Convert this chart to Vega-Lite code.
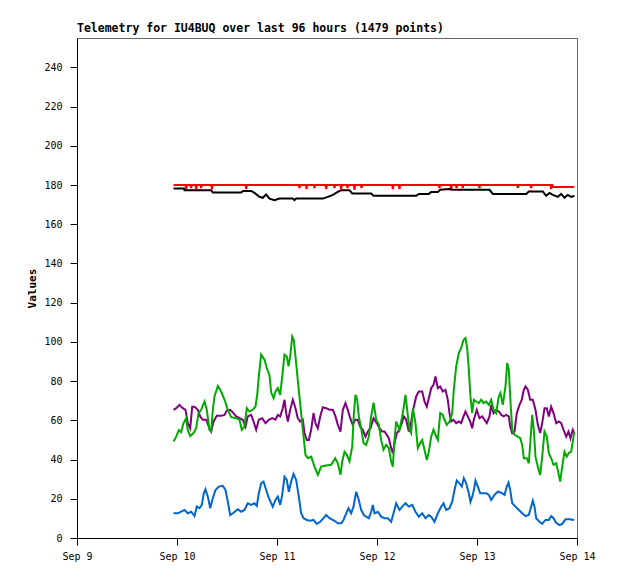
{
  "$schema": "https://vega.github.io/schema/vega-lite/v6.json",
  "description": "Telemetry line chart for IU4BUQ, five channels over 96 hours.",
  "width": 500,
  "height": 500,
  "autosize": {"type": "none"},
  "padding": {"left": 77, "top": 38, "right": 41, "bottom": 41},
  "background": "white",
  "config": {
    "view": {"stroke": "#666666", "strokeWidth": 1},
    "axis": {
      "grid": false,
      "domainColor": "black",
      "domainWidth": 1,
      "tickColor": "black",
      "tickSize": 7,
      "labelFont": "DejaVu Sans Mono",
      "labelFontSize": 10,
      "labelColor": "black",
      "titleFont": "DejaVu Sans Mono",
      "titleFontSize": 11,
      "titleFontWeight": "bold",
      "titleColor": "black"
    }
  },
  "title": {
    "text": "Telemetry for IU4BUQ over last 96 hours (1479 points)",
    "anchor": "start",
    "frame": "group",
    "font": "DejaVu Sans Mono",
    "fontSize": 11.5,
    "fontWeight": "bold",
    "color": "black",
    "offset": 4
  },
  "data": {
    "values": [
      {"time": "2024-09-09T23:10Z", "channel": "Ch1", "value": 180},
      {"time": "2024-09-10T02:02Z", "channel": "Ch1", "value": 180},
      {"time": "2024-09-10T02:12Z", "channel": "Ch1", "value": 178},
      {"time": "2024-09-10T02:22Z", "channel": "Ch1", "value": 180},
      {"time": "2024-09-10T03:14Z", "channel": "Ch1", "value": 180},
      {"time": "2024-09-10T03:24Z", "channel": "Ch1", "value": 178.5},
      {"time": "2024-09-10T03:34Z", "channel": "Ch1", "value": 180},
      {"time": "2024-09-10T04:26Z", "channel": "Ch1", "value": 180},
      {"time": "2024-09-10T04:36Z", "channel": "Ch1", "value": 178},
      {"time": "2024-09-10T04:46Z", "channel": "Ch1", "value": 180},
      {"time": "2024-09-10T05:38Z", "channel": "Ch1", "value": 180},
      {"time": "2024-09-10T05:48Z", "channel": "Ch1", "value": 178.5},
      {"time": "2024-09-10T05:58Z", "channel": "Ch1", "value": 180},
      {"time": "2024-09-10T08:14Z", "channel": "Ch1", "value": 180},
      {"time": "2024-09-10T08:24Z", "channel": "Ch1", "value": 178},
      {"time": "2024-09-10T08:34Z", "channel": "Ch1", "value": 180},
      {"time": "2024-09-10T16:26Z", "channel": "Ch1", "value": 180},
      {"time": "2024-09-10T16:36Z", "channel": "Ch1", "value": 178},
      {"time": "2024-09-10T16:46Z", "channel": "Ch1", "value": 180},
      {"time": "2024-09-11T05:14Z", "channel": "Ch1", "value": 180},
      {"time": "2024-09-11T05:24Z", "channel": "Ch1", "value": 178.5},
      {"time": "2024-09-11T05:34Z", "channel": "Ch1", "value": 180},
      {"time": "2024-09-11T06:55Z", "channel": "Ch1", "value": 180},
      {"time": "2024-09-11T07:05Z", "channel": "Ch1", "value": 178},
      {"time": "2024-09-11T07:15Z", "channel": "Ch1", "value": 180},
      {"time": "2024-09-11T08:50Z", "channel": "Ch1", "value": 180},
      {"time": "2024-09-11T09:00Z", "channel": "Ch1", "value": 178.5},
      {"time": "2024-09-11T09:10Z", "channel": "Ch1", "value": 180},
      {"time": "2024-09-11T11:38Z", "channel": "Ch1", "value": 180},
      {"time": "2024-09-11T11:48Z", "channel": "Ch1", "value": 178},
      {"time": "2024-09-11T11:58Z", "channel": "Ch1", "value": 180},
      {"time": "2024-09-11T13:38Z", "channel": "Ch1", "value": 180},
      {"time": "2024-09-11T13:48Z", "channel": "Ch1", "value": 178.5},
      {"time": "2024-09-11T13:58Z", "channel": "Ch1", "value": 180},
      {"time": "2024-09-11T15:15Z", "channel": "Ch1", "value": 180},
      {"time": "2024-09-11T15:25Z", "channel": "Ch1", "value": 178},
      {"time": "2024-09-11T15:35Z", "channel": "Ch1", "value": 180},
      {"time": "2024-09-11T16:45Z", "channel": "Ch1", "value": 180},
      {"time": "2024-09-11T16:55Z", "channel": "Ch1", "value": 178.5},
      {"time": "2024-09-11T17:05Z", "channel": "Ch1", "value": 180},
      {"time": "2024-09-11T18:26Z", "channel": "Ch1", "value": 180},
      {"time": "2024-09-11T18:36Z", "channel": "Ch1", "value": 177.5},
      {"time": "2024-09-11T18:46Z", "channel": "Ch1", "value": 180},
      {"time": "2024-09-11T20:07Z", "channel": "Ch1", "value": 180},
      {"time": "2024-09-11T20:17Z", "channel": "Ch1", "value": 178.5},
      {"time": "2024-09-11T20:27Z", "channel": "Ch1", "value": 180},
      {"time": "2024-09-12T03:38Z", "channel": "Ch1", "value": 180},
      {"time": "2024-09-12T03:48Z", "channel": "Ch1", "value": 178},
      {"time": "2024-09-12T03:58Z", "channel": "Ch1", "value": 180},
      {"time": "2024-09-12T05:14Z", "channel": "Ch1", "value": 180},
      {"time": "2024-09-12T05:24Z", "channel": "Ch1", "value": 178},
      {"time": "2024-09-12T05:34Z", "channel": "Ch1", "value": 180},
      {"time": "2024-09-12T14:50Z", "channel": "Ch1", "value": 180},
      {"time": "2024-09-12T15:00Z", "channel": "Ch1", "value": 178.5},
      {"time": "2024-09-12T15:10Z", "channel": "Ch1", "value": 180},
      {"time": "2024-09-12T17:38Z", "channel": "Ch1", "value": 180},
      {"time": "2024-09-12T17:48Z", "channel": "Ch1", "value": 178},
      {"time": "2024-09-12T17:58Z", "channel": "Ch1", "value": 180},
      {"time": "2024-09-12T18:55Z", "channel": "Ch1", "value": 180},
      {"time": "2024-09-12T19:05Z", "channel": "Ch1", "value": 178.5},
      {"time": "2024-09-12T19:15Z", "channel": "Ch1", "value": 180},
      {"time": "2024-09-12T20:25Z", "channel": "Ch1", "value": 180},
      {"time": "2024-09-12T20:35Z", "channel": "Ch1", "value": 178.5},
      {"time": "2024-09-12T20:45Z", "channel": "Ch1", "value": 180},
      {"time": "2024-09-13T00:26Z", "channel": "Ch1", "value": 180},
      {"time": "2024-09-13T00:36Z", "channel": "Ch1", "value": 178.5},
      {"time": "2024-09-13T00:46Z", "channel": "Ch1", "value": 180},
      {"time": "2024-09-13T09:38Z", "channel": "Ch1", "value": 180},
      {"time": "2024-09-13T09:48Z", "channel": "Ch1", "value": 178.5},
      {"time": "2024-09-13T09:58Z", "channel": "Ch1", "value": 180},
      {"time": "2024-09-13T12:50Z", "channel": "Ch1", "value": 180},
      {"time": "2024-09-13T13:00Z", "channel": "Ch1", "value": 178.5},
      {"time": "2024-09-13T13:10Z", "channel": "Ch1", "value": 180},
      {"time": "2024-09-13T17:38Z", "channel": "Ch1", "value": 180},
      {"time": "2024-09-13T17:48Z", "channel": "Ch1", "value": 178},
      {"time": "2024-09-13T17:58Z", "channel": "Ch1", "value": 180},
      {"time": "2024-09-13T18:05Z", "channel": "Ch1", "value": 180},
      {"time": "2024-09-13T18:15Z", "channel": "Ch1", "value": 179},
      {"time": "2024-09-13T23:20Z", "channel": "Ch1", "value": 179},

      {"time": "2024-09-09T23:10Z", "channel": "Ch2", "value": 178.2},
      {"time": "2024-09-10T01:40Z", "channel": "Ch2", "value": 178.2},
      {"time": "2024-09-10T01:48Z", "channel": "Ch2", "value": 177.4},
      {"time": "2024-09-10T08:12Z", "channel": "Ch2", "value": 177.4},
      {"time": "2024-09-10T08:36Z", "channel": "Ch2", "value": 176.2},
      {"time": "2024-09-10T15:25Z", "channel": "Ch2", "value": 176.2},
      {"time": "2024-09-10T15:48Z", "channel": "Ch2", "value": 177},
      {"time": "2024-09-10T17:48Z", "channel": "Ch2", "value": 177},
      {"time": "2024-09-10T18:36Z", "channel": "Ch2", "value": 176},
      {"time": "2024-09-10T19:48Z", "channel": "Ch2", "value": 174},
      {"time": "2024-09-10T20:35Z", "channel": "Ch2", "value": 173.5},
      {"time": "2024-09-10T21:24Z", "channel": "Ch2", "value": 175.2},
      {"time": "2024-09-10T22:12Z", "channel": "Ch2", "value": 173.1},
      {"time": "2024-09-10T23:24Z", "channel": "Ch2", "value": 172.3},
      {"time": "2024-09-11T00:36Z", "channel": "Ch2", "value": 173.1},
      {"time": "2024-09-11T03:48Z", "channel": "Ch2", "value": 173.1},
      {"time": "2024-09-11T04:12Z", "channel": "Ch2", "value": 172.3},
      {"time": "2024-09-11T04:36Z", "channel": "Ch2", "value": 173.1},
      {"time": "2024-09-11T11:00Z", "channel": "Ch2", "value": 173.1},
      {"time": "2024-09-11T12:12Z", "channel": "Ch2", "value": 174},
      {"time": "2024-09-11T13:24Z", "channel": "Ch2", "value": 175},
      {"time": "2024-09-11T14:36Z", "channel": "Ch2", "value": 176.5},
      {"time": "2024-09-11T15:25Z", "channel": "Ch2", "value": 177.4},
      {"time": "2024-09-11T17:24Z", "channel": "Ch2", "value": 177.4},
      {"time": "2024-09-11T18:03Z", "channel": "Ch2", "value": 175.7},
      {"time": "2024-09-11T22:36Z", "channel": "Ch2", "value": 175.7},
      {"time": "2024-09-11T23:10Z", "channel": "Ch2", "value": 174.5},
      {"time": "2024-09-12T09:24Z", "channel": "Ch2", "value": 174.5},
      {"time": "2024-09-12T10:02Z", "channel": "Ch2", "value": 175.5},
      {"time": "2024-09-12T12:26Z", "channel": "Ch2", "value": 175.5},
      {"time": "2024-09-12T13:00Z", "channel": "Ch2", "value": 176.4},
      {"time": "2024-09-12T14:36Z", "channel": "Ch2", "value": 176.4},
      {"time": "2024-09-12T15:10Z", "channel": "Ch2", "value": 177.6},
      {"time": "2024-09-12T17:24Z", "channel": "Ch2", "value": 178},
      {"time": "2024-09-12T18:03Z", "channel": "Ch2", "value": 177.6},
      {"time": "2024-09-13T03:00Z", "channel": "Ch2", "value": 177.6},
      {"time": "2024-09-13T03:48Z", "channel": "Ch2", "value": 175.5},
      {"time": "2024-09-13T11:48Z", "channel": "Ch2", "value": 175.5},
      {"time": "2024-09-13T12:26Z", "channel": "Ch2", "value": 176.7},
      {"time": "2024-09-13T15:48Z", "channel": "Ch2", "value": 176.7},
      {"time": "2024-09-13T16:36Z", "channel": "Ch2", "value": 174.5},
      {"time": "2024-09-13T17:24Z", "channel": "Ch2", "value": 176},
      {"time": "2024-09-13T18:12Z", "channel": "Ch2", "value": 175},
      {"time": "2024-09-13T19:23Z", "channel": "Ch2", "value": 174},
      {"time": "2024-09-13T20:12Z", "channel": "Ch2", "value": 175.5},
      {"time": "2024-09-13T21:00Z", "channel": "Ch2", "value": 173.5},
      {"time": "2024-09-13T21:47Z", "channel": "Ch2", "value": 175},
      {"time": "2024-09-13T22:36Z", "channel": "Ch2", "value": 174},
      {"time": "2024-09-13T23:24Z", "channel": "Ch2", "value": 174.5},

      {"time": "2024-09-09T23:10Z", "channel": "Ch3", "value": 65.4},
      {"time": "2024-09-09T23:49Z", "channel": "Ch3", "value": 66.2},
      {"time": "2024-09-10T00:36Z", "channel": "Ch3", "value": 67.9},
      {"time": "2024-09-10T01:23Z", "channel": "Ch3", "value": 66.2},
      {"time": "2024-09-10T02:02Z", "channel": "Ch3", "value": 65.4},
      {"time": "2024-09-10T02:36Z", "channel": "Ch3", "value": 58.6},
      {"time": "2024-09-10T03:10Z", "channel": "Ch3", "value": 56},
      {"time": "2024-09-10T03:39Z", "channel": "Ch3", "value": 67},
      {"time": "2024-09-10T04:12Z", "channel": "Ch3", "value": 67},
      {"time": "2024-09-10T04:59Z", "channel": "Ch3", "value": 65.4},
      {"time": "2024-09-10T05:34Z", "channel": "Ch3", "value": 62},
      {"time": "2024-09-10T06:12Z", "channel": "Ch3", "value": 60.3},
      {"time": "2024-09-10T07:00Z", "channel": "Ch3", "value": 60.3},
      {"time": "2024-09-10T07:38Z", "channel": "Ch3", "value": 56.8},
      {"time": "2024-09-10T08:12Z", "channel": "Ch3", "value": 54.3},
      {"time": "2024-09-10T08:46Z", "channel": "Ch3", "value": 59.4},
      {"time": "2024-09-10T09:33Z", "channel": "Ch3", "value": 62.3},
      {"time": "2024-09-10T10:36Z", "channel": "Ch3", "value": 62.3},
      {"time": "2024-09-10T11:24Z", "channel": "Ch3", "value": 62.8},
      {"time": "2024-09-10T11:57Z", "channel": "Ch3", "value": 65},
      {"time": "2024-09-10T12:46Z", "channel": "Ch3", "value": 65.4},
      {"time": "2024-09-10T13:34Z", "channel": "Ch3", "value": 63.7},
      {"time": "2024-09-10T14:12Z", "channel": "Ch3", "value": 62},
      {"time": "2024-09-10T15:00Z", "channel": "Ch3", "value": 61.1},
      {"time": "2024-09-10T15:48Z", "channel": "Ch3", "value": 60.3},
      {"time": "2024-09-10T16:26Z", "channel": "Ch3", "value": 56.8},
      {"time": "2024-09-10T16:59Z", "channel": "Ch3", "value": 62},
      {"time": "2024-09-10T17:48Z", "channel": "Ch3", "value": 62.8},
      {"time": "2024-09-10T18:22Z", "channel": "Ch3", "value": 59.4},
      {"time": "2024-09-10T19:00Z", "channel": "Ch3", "value": 55.2},
      {"time": "2024-09-10T19:38Z", "channel": "Ch3", "value": 60.3},
      {"time": "2024-09-10T20:27Z", "channel": "Ch3", "value": 61.1},
      {"time": "2024-09-10T21:14Z", "channel": "Ch3", "value": 58.6},
      {"time": "2024-09-10T22:02Z", "channel": "Ch3", "value": 60.3},
      {"time": "2024-09-10T22:51Z", "channel": "Ch3", "value": 61.1},
      {"time": "2024-09-10T23:38Z", "channel": "Ch3", "value": 60.3},
      {"time": "2024-09-11T00:12Z", "channel": "Ch3", "value": 62.8},
      {"time": "2024-09-11T00:46Z", "channel": "Ch3", "value": 62},
      {"time": "2024-09-11T01:23Z", "channel": "Ch3", "value": 66.2},
      {"time": "2024-09-11T01:48Z", "channel": "Ch3", "value": 70.5},
      {"time": "2024-09-11T02:12Z", "channel": "Ch3", "value": 63.7},
      {"time": "2024-09-11T02:36Z", "channel": "Ch3", "value": 59.4},
      {"time": "2024-09-11T03:10Z", "channel": "Ch3", "value": 65.4},
      {"time": "2024-09-11T03:48Z", "channel": "Ch3", "value": 70.5},
      {"time": "2024-09-11T04:26Z", "channel": "Ch3", "value": 66.2},
      {"time": "2024-09-11T04:59Z", "channel": "Ch3", "value": 61.1},
      {"time": "2024-09-11T05:34Z", "channel": "Ch3", "value": 59.4},
      {"time": "2024-09-11T06:12Z", "channel": "Ch3", "value": 60.3},
      {"time": "2024-09-11T06:36Z", "channel": "Ch3", "value": 53.5},
      {"time": "2024-09-11T07:09Z", "channel": "Ch3", "value": 50},
      {"time": "2024-09-11T07:38Z", "channel": "Ch3", "value": 50},
      {"time": "2024-09-11T08:12Z", "channel": "Ch3", "value": 55.2},
      {"time": "2024-09-11T08:46Z", "channel": "Ch3", "value": 63.7},
      {"time": "2024-09-11T09:14Z", "channel": "Ch3", "value": 58.6},
      {"time": "2024-09-11T09:48Z", "channel": "Ch3", "value": 56},
      {"time": "2024-09-11T10:22Z", "channel": "Ch3", "value": 62},
      {"time": "2024-09-11T11:00Z", "channel": "Ch3", "value": 66.7},
      {"time": "2024-09-11T11:48Z", "channel": "Ch3", "value": 66.2},
      {"time": "2024-09-11T12:36Z", "channel": "Ch3", "value": 65.4},
      {"time": "2024-09-11T13:24Z", "channel": "Ch3", "value": 65.4},
      {"time": "2024-09-11T14:02Z", "channel": "Ch3", "value": 62},
      {"time": "2024-09-11T14:36Z", "channel": "Ch3", "value": 57.7},
      {"time": "2024-09-11T15:14Z", "channel": "Ch3", "value": 54.3},
      {"time": "2024-09-11T15:48Z", "channel": "Ch3", "value": 65.4},
      {"time": "2024-09-11T16:26Z", "channel": "Ch3", "value": 68.8},
      {"time": "2024-09-11T16:59Z", "channel": "Ch3", "value": 65.4},
      {"time": "2024-09-11T17:34Z", "channel": "Ch3", "value": 61.1},
      {"time": "2024-09-11T18:12Z", "channel": "Ch3", "value": 57.7},
      {"time": "2024-09-11T18:46Z", "channel": "Ch3", "value": 60.3},
      {"time": "2024-09-11T19:23Z", "channel": "Ch3", "value": 60.3},
      {"time": "2024-09-11T19:58Z", "channel": "Ch3", "value": 56.8},
      {"time": "2024-09-11T20:35Z", "channel": "Ch3", "value": 55.2},
      {"time": "2024-09-11T21:14Z", "channel": "Ch3", "value": 51.7},
      {"time": "2024-09-11T21:47Z", "channel": "Ch3", "value": 54.3},
      {"time": "2024-09-11T22:26Z", "channel": "Ch3", "value": 56},
      {"time": "2024-09-11T23:10Z", "channel": "Ch3", "value": 61.1},
      {"time": "2024-09-11T23:57Z", "channel": "Ch3", "value": 58.6},
      {"time": "2024-09-12T00:36Z", "channel": "Ch3", "value": 56},
      {"time": "2024-09-12T01:15Z", "channel": "Ch3", "value": 54.3},
      {"time": "2024-09-12T01:48Z", "channel": "Ch3", "value": 54.3},
      {"time": "2024-09-12T02:21Z", "channel": "Ch3", "value": 52.6},
      {"time": "2024-09-12T02:50Z", "channel": "Ch3", "value": 50.9},
      {"time": "2024-09-12T03:24Z", "channel": "Ch3", "value": 45.8},
      {"time": "2024-09-12T03:48Z", "channel": "Ch3", "value": 43.3},
      {"time": "2024-09-12T04:12Z", "channel": "Ch3", "value": 48.4},
      {"time": "2024-09-12T04:45Z", "channel": "Ch3", "value": 53.5},
      {"time": "2024-09-12T05:24Z", "channel": "Ch3", "value": 55.2},
      {"time": "2024-09-12T05:57Z", "channel": "Ch3", "value": 58.6},
      {"time": "2024-09-12T06:26Z", "channel": "Ch3", "value": 62},
      {"time": "2024-09-12T07:00Z", "channel": "Ch3", "value": 60.3},
      {"time": "2024-09-12T07:38Z", "channel": "Ch3", "value": 54.3},
      {"time": "2024-09-12T08:12Z", "channel": "Ch3", "value": 59.4},
      {"time": "2024-09-12T08:46Z", "channel": "Ch3", "value": 66.2},
      {"time": "2024-09-12T09:24Z", "channel": "Ch3", "value": 72.2},
      {"time": "2024-09-12T10:02Z", "channel": "Ch3", "value": 74.7},
      {"time": "2024-09-12T10:51Z", "channel": "Ch3", "value": 74.7},
      {"time": "2024-09-12T11:24Z", "channel": "Ch3", "value": 69.6},
      {"time": "2024-09-12T11:57Z", "channel": "Ch3", "value": 67},
      {"time": "2024-09-12T12:26Z", "channel": "Ch3", "value": 71.3},
      {"time": "2024-09-12T13:00Z", "channel": "Ch3", "value": 76.4},
      {"time": "2024-09-12T13:34Z", "channel": "Ch3", "value": 78.1},
      {"time": "2024-09-12T14:02Z", "channel": "Ch3", "value": 82.4},
      {"time": "2024-09-12T14:36Z", "channel": "Ch3", "value": 76.4},
      {"time": "2024-09-12T15:10Z", "channel": "Ch3", "value": 77.3},
      {"time": "2024-09-12T15:48Z", "channel": "Ch3", "value": 74.7},
      {"time": "2024-09-12T16:26Z", "channel": "Ch3", "value": 75.6},
      {"time": "2024-09-12T16:59Z", "channel": "Ch3", "value": 70.5},
      {"time": "2024-09-12T17:24Z", "channel": "Ch3", "value": 63.7},
      {"time": "2024-09-12T17:48Z", "channel": "Ch3", "value": 59.4},
      {"time": "2024-09-12T18:22Z", "channel": "Ch3", "value": 60.3},
      {"time": "2024-09-12T19:00Z", "channel": "Ch3", "value": 58.6},
      {"time": "2024-09-12T19:38Z", "channel": "Ch3", "value": 59.4},
      {"time": "2024-09-12T20:12Z", "channel": "Ch3", "value": 58.6},
      {"time": "2024-09-12T20:46Z", "channel": "Ch3", "value": 62},
      {"time": "2024-09-12T21:14Z", "channel": "Ch3", "value": 64.5},
      {"time": "2024-09-12T21:47Z", "channel": "Ch3", "value": 62},
      {"time": "2024-09-12T22:22Z", "channel": "Ch3", "value": 59.4},
      {"time": "2024-09-12T22:51Z", "channel": "Ch3", "value": 56},
      {"time": "2024-09-12T23:14Z", "channel": "Ch3", "value": 60.3},
      {"time": "2024-09-12T23:57Z", "channel": "Ch3", "value": 65.4},
      {"time": "2024-09-13T00:36Z", "channel": "Ch3", "value": 61.1},
      {"time": "2024-09-13T01:15Z", "channel": "Ch3", "value": 62},
      {"time": "2024-09-13T01:48Z", "channel": "Ch3", "value": 60.3},
      {"time": "2024-09-13T02:21Z", "channel": "Ch3", "value": 58.6},
      {"time": "2024-09-13T03:00Z", "channel": "Ch3", "value": 62},
      {"time": "2024-09-13T03:24Z", "channel": "Ch3", "value": 67.9},
      {"time": "2024-09-13T03:58Z", "channel": "Ch3", "value": 63.7},
      {"time": "2024-09-13T04:36Z", "channel": "Ch3", "value": 65.4},
      {"time": "2024-09-13T05:14Z", "channel": "Ch3", "value": 64.5},
      {"time": "2024-09-13T05:48Z", "channel": "Ch3", "value": 62.8},
      {"time": "2024-09-13T06:22Z", "channel": "Ch3", "value": 62},
      {"time": "2024-09-13T07:00Z", "channel": "Ch3", "value": 62.8},
      {"time": "2024-09-13T07:38Z", "channel": "Ch3", "value": 62},
      {"time": "2024-09-13T07:58Z", "channel": "Ch3", "value": 56.8},
      {"time": "2024-09-13T08:27Z", "channel": "Ch3", "value": 53.5},
      {"time": "2024-09-13T09:00Z", "channel": "Ch3", "value": 54.3},
      {"time": "2024-09-13T09:33Z", "channel": "Ch3", "value": 63.7},
      {"time": "2024-09-13T10:12Z", "channel": "Ch3", "value": 67.9},
      {"time": "2024-09-13T10:45Z", "channel": "Ch3", "value": 70.5},
      {"time": "2024-09-13T11:14Z", "channel": "Ch3", "value": 75.6},
      {"time": "2024-09-13T11:38Z", "channel": "Ch3", "value": 77.3},
      {"time": "2024-09-13T12:12Z", "channel": "Ch3", "value": 75.6},
      {"time": "2024-09-13T12:46Z", "channel": "Ch3", "value": 70.5},
      {"time": "2024-09-13T13:24Z", "channel": "Ch3", "value": 70.5},
      {"time": "2024-09-13T14:02Z", "channel": "Ch3", "value": 65.4},
      {"time": "2024-09-13T14:36Z", "channel": "Ch3", "value": 57.7},
      {"time": "2024-09-13T15:10Z", "channel": "Ch3", "value": 53.5},
      {"time": "2024-09-13T15:39Z", "channel": "Ch3", "value": 58.6},
      {"time": "2024-09-13T16:12Z", "channel": "Ch3", "value": 66.2},
      {"time": "2024-09-13T16:45Z", "channel": "Ch3", "value": 66.2},
      {"time": "2024-09-13T17:14Z", "channel": "Ch3", "value": 62},
      {"time": "2024-09-13T17:48Z", "channel": "Ch3", "value": 67},
      {"time": "2024-09-13T18:22Z", "channel": "Ch3", "value": 63.7},
      {"time": "2024-09-13T19:00Z", "channel": "Ch3", "value": 58.6},
      {"time": "2024-09-13T19:38Z", "channel": "Ch3", "value": 59.4},
      {"time": "2024-09-13T20:12Z", "channel": "Ch3", "value": 58.6},
      {"time": "2024-09-13T20:46Z", "channel": "Ch3", "value": 55.2},
      {"time": "2024-09-13T21:24Z", "channel": "Ch3", "value": 51.7},
      {"time": "2024-09-13T21:58Z", "channel": "Ch3", "value": 54.3},
      {"time": "2024-09-13T22:26Z", "channel": "Ch3", "value": 50.9},
      {"time": "2024-09-13T22:59Z", "channel": "Ch3", "value": 55.2},
      {"time": "2024-09-13T23:20Z", "channel": "Ch3", "value": 53.5},

      {"time": "2024-09-09T23:10Z", "channel": "Ch4", "value": 49.2},
      {"time": "2024-09-09T23:49Z", "channel": "Ch4", "value": 51.7},
      {"time": "2024-09-10T00:26Z", "channel": "Ch4", "value": 55},
      {"time": "2024-09-10T01:00Z", "channel": "Ch4", "value": 54},
      {"time": "2024-09-10T01:34Z", "channel": "Ch4", "value": 58.6},
      {"time": "2024-09-10T02:12Z", "channel": "Ch4", "value": 61},
      {"time": "2024-09-10T02:36Z", "channel": "Ch4", "value": 55},
      {"time": "2024-09-10T03:10Z", "channel": "Ch4", "value": 52},
      {"time": "2024-09-10T03:58Z", "channel": "Ch4", "value": 53.5},
      {"time": "2024-09-10T04:36Z", "channel": "Ch4", "value": 56},
      {"time": "2024-09-10T05:10Z", "channel": "Ch4", "value": 63.7},
      {"time": "2024-09-10T05:48Z", "channel": "Ch4", "value": 65.4},
      {"time": "2024-09-10T06:36Z", "channel": "Ch4", "value": 69.6},
      {"time": "2024-09-10T07:09Z", "channel": "Ch4", "value": 65.4},
      {"time": "2024-09-10T07:48Z", "channel": "Ch4", "value": 55},
      {"time": "2024-09-10T08:12Z", "channel": "Ch4", "value": 54.3},
      {"time": "2024-09-10T08:36Z", "channel": "Ch4", "value": 65.4},
      {"time": "2024-09-10T09:00Z", "channel": "Ch4", "value": 72.2},
      {"time": "2024-09-10T09:48Z", "channel": "Ch4", "value": 77.6},
      {"time": "2024-09-10T10:36Z", "channel": "Ch4", "value": 74.7},
      {"time": "2024-09-10T11:24Z", "channel": "Ch4", "value": 70.5},
      {"time": "2024-09-10T12:12Z", "channel": "Ch4", "value": 65.4},
      {"time": "2024-09-10T13:00Z", "channel": "Ch4", "value": 61.6},
      {"time": "2024-09-10T14:12Z", "channel": "Ch4", "value": 61.1},
      {"time": "2024-09-10T15:00Z", "channel": "Ch4", "value": 60.3},
      {"time": "2024-09-10T15:33Z", "channel": "Ch4", "value": 55.2},
      {"time": "2024-09-10T16:12Z", "channel": "Ch4", "value": 56.8},
      {"time": "2024-09-10T16:45Z", "channel": "Ch4", "value": 66.2},
      {"time": "2024-09-10T17:24Z", "channel": "Ch4", "value": 64.5},
      {"time": "2024-09-10T18:12Z", "channel": "Ch4", "value": 65.4},
      {"time": "2024-09-10T18:50Z", "channel": "Ch4", "value": 67},
      {"time": "2024-09-10T19:15Z", "channel": "Ch4", "value": 73},
      {"time": "2024-09-10T19:38Z", "channel": "Ch4", "value": 82.4},
      {"time": "2024-09-10T20:12Z", "channel": "Ch4", "value": 93.5},
      {"time": "2024-09-10T21:00Z", "channel": "Ch4", "value": 90.9},
      {"time": "2024-09-10T21:33Z", "channel": "Ch4", "value": 86.7},
      {"time": "2024-09-10T22:12Z", "channel": "Ch4", "value": 83},
      {"time": "2024-09-10T22:36Z", "channel": "Ch4", "value": 74.3},
      {"time": "2024-09-10T23:10Z", "channel": "Ch4", "value": 71.3},
      {"time": "2024-09-10T23:38Z", "channel": "Ch4", "value": 74.7},
      {"time": "2024-09-11T00:12Z", "channel": "Ch4", "value": 76.4},
      {"time": "2024-09-11T00:46Z", "channel": "Ch4", "value": 73},
      {"time": "2024-09-11T01:15Z", "channel": "Ch4", "value": 82.4},
      {"time": "2024-09-11T01:48Z", "channel": "Ch4", "value": 93.5},
      {"time": "2024-09-11T02:21Z", "channel": "Ch4", "value": 92.6},
      {"time": "2024-09-11T02:46Z", "channel": "Ch4", "value": 87.5},
      {"time": "2024-09-11T03:10Z", "channel": "Ch4", "value": 92.6},
      {"time": "2024-09-11T03:39Z", "channel": "Ch4", "value": 102.8},
      {"time": "2024-09-11T04:02Z", "channel": "Ch4", "value": 101},
      {"time": "2024-09-11T04:26Z", "channel": "Ch4", "value": 92.6},
      {"time": "2024-09-11T04:59Z", "channel": "Ch4", "value": 80.7},
      {"time": "2024-09-11T05:38Z", "channel": "Ch4", "value": 67},
      {"time": "2024-09-11T06:12Z", "channel": "Ch4", "value": 55.2},
      {"time": "2024-09-11T06:50Z", "channel": "Ch4", "value": 42.4},
      {"time": "2024-09-11T07:24Z", "channel": "Ch4", "value": 40.7},
      {"time": "2024-09-11T08:12Z", "channel": "Ch4", "value": 41.5},
      {"time": "2024-09-11T09:00Z", "channel": "Ch4", "value": 36.4},
      {"time": "2024-09-11T09:48Z", "channel": "Ch4", "value": 32.2},
      {"time": "2024-09-11T10:36Z", "channel": "Ch4", "value": 36.4},
      {"time": "2024-09-11T11:24Z", "channel": "Ch4", "value": 36.8},
      {"time": "2024-09-11T13:00Z", "channel": "Ch4", "value": 37.3},
      {"time": "2024-09-11T13:58Z", "channel": "Ch4", "value": 40.7},
      {"time": "2024-09-11T14:36Z", "channel": "Ch4", "value": 38.1},
      {"time": "2024-09-11T15:14Z", "channel": "Ch4", "value": 32.2},
      {"time": "2024-09-11T15:39Z", "channel": "Ch4", "value": 39},
      {"time": "2024-09-11T16:12Z", "channel": "Ch4", "value": 44},
      {"time": "2024-09-11T16:45Z", "channel": "Ch4", "value": 42.4},
      {"time": "2024-09-11T17:24Z", "channel": "Ch4", "value": 39},
      {"time": "2024-09-11T18:03Z", "channel": "Ch4", "value": 46.6},
      {"time": "2024-09-11T18:26Z", "channel": "Ch4", "value": 62.8},
      {"time": "2024-09-11T18:50Z", "channel": "Ch4", "value": 73},
      {"time": "2024-09-11T19:15Z", "channel": "Ch4", "value": 70.5},
      {"time": "2024-09-11T19:38Z", "channel": "Ch4", "value": 62},
      {"time": "2024-09-11T20:12Z", "channel": "Ch4", "value": 56},
      {"time": "2024-09-11T20:46Z", "channel": "Ch4", "value": 48.4},
      {"time": "2024-09-11T21:24Z", "channel": "Ch4", "value": 47.5},
      {"time": "2024-09-11T22:02Z", "channel": "Ch4", "value": 51.7},
      {"time": "2024-09-11T22:36Z", "channel": "Ch4", "value": 62},
      {"time": "2024-09-11T23:10Z", "channel": "Ch4", "value": 69},
      {"time": "2024-09-11T23:49Z", "channel": "Ch4", "value": 60.3},
      {"time": "2024-09-12T00:26Z", "channel": "Ch4", "value": 57.7},
      {"time": "2024-09-12T01:00Z", "channel": "Ch4", "value": 50},
      {"time": "2024-09-12T01:34Z", "channel": "Ch4", "value": 45},
      {"time": "2024-09-12T02:12Z", "channel": "Ch4", "value": 47.5},
      {"time": "2024-09-12T02:50Z", "channel": "Ch4", "value": 45.8},
      {"time": "2024-09-12T03:24Z", "channel": "Ch4", "value": 39},
      {"time": "2024-09-12T03:48Z", "channel": "Ch4", "value": 36.4},
      {"time": "2024-09-12T04:12Z", "channel": "Ch4", "value": 50},
      {"time": "2024-09-12T04:36Z", "channel": "Ch4", "value": 59.4},
      {"time": "2024-09-12T05:24Z", "channel": "Ch4", "value": 55.2},
      {"time": "2024-09-12T06:03Z", "channel": "Ch4", "value": 62},
      {"time": "2024-09-12T06:26Z", "channel": "Ch4", "value": 67},
      {"time": "2024-09-12T06:50Z", "channel": "Ch4", "value": 73},
      {"time": "2024-09-12T07:15Z", "channel": "Ch4", "value": 65.4},
      {"time": "2024-09-12T07:48Z", "channel": "Ch4", "value": 55.2},
      {"time": "2024-09-12T08:12Z", "channel": "Ch4", "value": 53.5},
      {"time": "2024-09-12T08:36Z", "channel": "Ch4", "value": 66.2},
      {"time": "2024-09-12T09:14Z", "channel": "Ch4", "value": 58.6},
      {"time": "2024-09-12T09:48Z", "channel": "Ch4", "value": 45.8},
      {"time": "2024-09-12T10:22Z", "channel": "Ch4", "value": 48.4},
      {"time": "2024-09-12T10:51Z", "channel": "Ch4", "value": 50},
      {"time": "2024-09-12T11:24Z", "channel": "Ch4", "value": 45},
      {"time": "2024-09-12T11:57Z", "channel": "Ch4", "value": 39.8},
      {"time": "2024-09-12T12:26Z", "channel": "Ch4", "value": 44},
      {"time": "2024-09-12T13:00Z", "channel": "Ch4", "value": 51.7},
      {"time": "2024-09-12T13:34Z", "channel": "Ch4", "value": 55.2},
      {"time": "2024-09-12T14:12Z", "channel": "Ch4", "value": 51.7},
      {"time": "2024-09-12T14:36Z", "channel": "Ch4", "value": 50},
      {"time": "2024-09-12T15:10Z", "channel": "Ch4", "value": 63.7},
      {"time": "2024-09-12T15:48Z", "channel": "Ch4", "value": 62.8},
      {"time": "2024-09-12T16:12Z", "channel": "Ch4", "value": 60.3},
      {"time": "2024-09-12T16:45Z", "channel": "Ch4", "value": 57.7},
      {"time": "2024-09-12T17:24Z", "channel": "Ch4", "value": 59.4},
      {"time": "2024-09-12T18:03Z", "channel": "Ch4", "value": 63.7},
      {"time": "2024-09-12T18:26Z", "channel": "Ch4", "value": 75.6},
      {"time": "2024-09-12T19:00Z", "channel": "Ch4", "value": 87.5},
      {"time": "2024-09-12T19:38Z", "channel": "Ch4", "value": 94.3},
      {"time": "2024-09-12T20:12Z", "channel": "Ch4", "value": 96.9},
      {"time": "2024-09-12T20:46Z", "channel": "Ch4", "value": 101},
      {"time": "2024-09-12T21:14Z", "channel": "Ch4", "value": 102},
      {"time": "2024-09-12T21:39Z", "channel": "Ch4", "value": 96.9},
      {"time": "2024-09-12T22:02Z", "channel": "Ch4", "value": 85.8},
      {"time": "2024-09-12T22:26Z", "channel": "Ch4", "value": 72.2},
      {"time": "2024-09-12T22:51Z", "channel": "Ch4", "value": 63.7},
      {"time": "2024-09-12T23:14Z", "channel": "Ch4", "value": 70.5},
      {"time": "2024-09-12T23:49Z", "channel": "Ch4", "value": 69.6},
      {"time": "2024-09-13T00:26Z", "channel": "Ch4", "value": 68.8},
      {"time": "2024-09-13T01:00Z", "channel": "Ch4", "value": 70.5},
      {"time": "2024-09-13T01:34Z", "channel": "Ch4", "value": 68.8},
      {"time": "2024-09-13T02:12Z", "channel": "Ch4", "value": 69.6},
      {"time": "2024-09-13T02:50Z", "channel": "Ch4", "value": 67.9},
      {"time": "2024-09-13T03:24Z", "channel": "Ch4", "value": 70.5},
      {"time": "2024-09-13T03:58Z", "channel": "Ch4", "value": 65.4},
      {"time": "2024-09-13T04:36Z", "channel": "Ch4", "value": 63.7},
      {"time": "2024-09-13T05:14Z", "channel": "Ch4", "value": 72.2},
      {"time": "2024-09-13T05:38Z", "channel": "Ch4", "value": 73.9},
      {"time": "2024-09-13T06:12Z", "channel": "Ch4", "value": 67.9},
      {"time": "2024-09-13T06:50Z", "channel": "Ch4", "value": 77.3},
      {"time": "2024-09-13T07:15Z", "channel": "Ch4", "value": 89.2},
      {"time": "2024-09-13T07:38Z", "channel": "Ch4", "value": 85.8},
      {"time": "2024-09-13T07:58Z", "channel": "Ch4", "value": 72.2},
      {"time": "2024-09-13T08:27Z", "channel": "Ch4", "value": 55.2},
      {"time": "2024-09-13T09:00Z", "channel": "Ch4", "value": 52.6},
      {"time": "2024-09-13T09:48Z", "channel": "Ch4", "value": 51.7},
      {"time": "2024-09-13T10:22Z", "channel": "Ch4", "value": 50.9},
      {"time": "2024-09-13T10:51Z", "channel": "Ch4", "value": 47.5},
      {"time": "2024-09-13T11:14Z", "channel": "Ch4", "value": 40.7},
      {"time": "2024-09-13T11:57Z", "channel": "Ch4", "value": 40.7},
      {"time": "2024-09-13T12:26Z", "channel": "Ch4", "value": 38.1},
      {"time": "2024-09-13T12:50Z", "channel": "Ch4", "value": 50},
      {"time": "2024-09-13T13:15Z", "channel": "Ch4", "value": 62.8},
      {"time": "2024-09-13T13:38Z", "channel": "Ch4", "value": 55.2},
      {"time": "2024-09-13T14:02Z", "channel": "Ch4", "value": 41.5},
      {"time": "2024-09-13T14:36Z", "channel": "Ch4", "value": 36.4},
      {"time": "2024-09-13T15:10Z", "channel": "Ch4", "value": 32.2},
      {"time": "2024-09-13T15:39Z", "channel": "Ch4", "value": 41.5},
      {"time": "2024-09-13T16:12Z", "channel": "Ch4", "value": 54.3},
      {"time": "2024-09-13T16:45Z", "channel": "Ch4", "value": 51.7},
      {"time": "2024-09-13T17:14Z", "channel": "Ch4", "value": 43.3},
      {"time": "2024-09-13T17:48Z", "channel": "Ch4", "value": 40.7},
      {"time": "2024-09-13T18:22Z", "channel": "Ch4", "value": 37.3},
      {"time": "2024-09-13T19:00Z", "channel": "Ch4", "value": 38.1},
      {"time": "2024-09-13T19:23Z", "channel": "Ch4", "value": 34.7},
      {"time": "2024-09-13T19:58Z", "channel": "Ch4", "value": 28.8},
      {"time": "2024-09-13T20:27Z", "channel": "Ch4", "value": 36.4},
      {"time": "2024-09-13T21:00Z", "channel": "Ch4", "value": 44},
      {"time": "2024-09-13T21:33Z", "channel": "Ch4", "value": 41.5},
      {"time": "2024-09-13T22:02Z", "channel": "Ch4", "value": 43.3},
      {"time": "2024-09-13T22:36Z", "channel": "Ch4", "value": 44},
      {"time": "2024-09-13T22:59Z", "channel": "Ch4", "value": 49.2},
      {"time": "2024-09-13T23:20Z", "channel": "Ch4", "value": 54},

      {"time": "2024-09-09T23:10Z", "channel": "Ch5", "value": 12.6},
      {"time": "2024-09-10T00:12Z", "channel": "Ch5", "value": 12.6},
      {"time": "2024-09-10T01:00Z", "channel": "Ch5", "value": 13.4},
      {"time": "2024-09-10T01:48Z", "channel": "Ch5", "value": 14.3},
      {"time": "2024-09-10T02:36Z", "channel": "Ch5", "value": 12.6},
      {"time": "2024-09-10T03:24Z", "channel": "Ch5", "value": 13.4},
      {"time": "2024-09-10T04:12Z", "channel": "Ch5", "value": 11.2},
      {"time": "2024-09-10T04:45Z", "channel": "Ch5", "value": 16},
      {"time": "2024-09-10T05:24Z", "channel": "Ch5", "value": 15.2},
      {"time": "2024-09-10T05:57Z", "channel": "Ch5", "value": 16.9},
      {"time": "2024-09-10T06:26Z", "channel": "Ch5", "value": 22.8},
      {"time": "2024-09-10T06:50Z", "channel": "Ch5", "value": 24.9},
      {"time": "2024-09-10T07:24Z", "channel": "Ch5", "value": 21.1},
      {"time": "2024-09-10T07:58Z", "channel": "Ch5", "value": 15.2},
      {"time": "2024-09-10T08:36Z", "channel": "Ch5", "value": 20.3},
      {"time": "2024-09-10T09:14Z", "channel": "Ch5", "value": 24.5},
      {"time": "2024-09-10T10:02Z", "channel": "Ch5", "value": 26.2},
      {"time": "2024-09-10T11:00Z", "channel": "Ch5", "value": 26.6},
      {"time": "2024-09-10T11:38Z", "channel": "Ch5", "value": 24.5},
      {"time": "2024-09-10T12:12Z", "channel": "Ch5", "value": 18.5},
      {"time": "2024-09-10T12:46Z", "channel": "Ch5", "value": 11.7},
      {"time": "2024-09-10T13:34Z", "channel": "Ch5", "value": 12.9},
      {"time": "2024-09-10T14:36Z", "channel": "Ch5", "value": 14.7},
      {"time": "2024-09-10T15:25Z", "channel": "Ch5", "value": 13.4},
      {"time": "2024-09-10T16:12Z", "channel": "Ch5", "value": 14.3},
      {"time": "2024-09-10T16:59Z", "channel": "Ch5", "value": 17.7},
      {"time": "2024-09-10T17:48Z", "channel": "Ch5", "value": 16.9},
      {"time": "2024-09-10T18:36Z", "channel": "Ch5", "value": 17.7},
      {"time": "2024-09-10T19:09Z", "channel": "Ch5", "value": 16.3},
      {"time": "2024-09-10T19:38Z", "channel": "Ch5", "value": 22.8},
      {"time": "2024-09-10T20:12Z", "channel": "Ch5", "value": 27.9},
      {"time": "2024-09-10T20:46Z", "channel": "Ch5", "value": 28.8},
      {"time": "2024-09-10T21:24Z", "channel": "Ch5", "value": 24.5},
      {"time": "2024-09-10T22:02Z", "channel": "Ch5", "value": 20.5},
      {"time": "2024-09-10T22:59Z", "channel": "Ch5", "value": 16},
      {"time": "2024-09-10T23:38Z", "channel": "Ch5", "value": 19.4},
      {"time": "2024-09-11T00:12Z", "channel": "Ch5", "value": 21.1},
      {"time": "2024-09-11T00:46Z", "channel": "Ch5", "value": 16.9},
      {"time": "2024-09-11T01:15Z", "channel": "Ch5", "value": 22},
      {"time": "2024-09-11T01:48Z", "channel": "Ch5", "value": 31.3},
      {"time": "2024-09-11T02:21Z", "channel": "Ch5", "value": 29.6},
      {"time": "2024-09-11T02:50Z", "channel": "Ch5", "value": 23.6},
      {"time": "2024-09-11T03:24Z", "channel": "Ch5", "value": 28.8},
      {"time": "2024-09-11T03:58Z", "channel": "Ch5", "value": 32.7},
      {"time": "2024-09-11T04:36Z", "channel": "Ch5", "value": 29.6},
      {"time": "2024-09-11T05:14Z", "channel": "Ch5", "value": 21.1},
      {"time": "2024-09-11T05:48Z", "channel": "Ch5", "value": 12.6},
      {"time": "2024-09-11T06:22Z", "channel": "Ch5", "value": 10.1},
      {"time": "2024-09-11T07:09Z", "channel": "Ch5", "value": 9.2},
      {"time": "2024-09-11T07:58Z", "channel": "Ch5", "value": 8.8},
      {"time": "2024-09-11T08:46Z", "channel": "Ch5", "value": 9.2},
      {"time": "2024-09-11T09:33Z", "channel": "Ch5", "value": 7.2},
      {"time": "2024-09-11T10:22Z", "channel": "Ch5", "value": 8.3},
      {"time": "2024-09-11T11:10Z", "channel": "Ch5", "value": 10.1},
      {"time": "2024-09-11T11:48Z", "channel": "Ch5", "value": 11.7},
      {"time": "2024-09-11T12:36Z", "channel": "Ch5", "value": 10.1},
      {"time": "2024-09-11T13:48Z", "channel": "Ch5", "value": 8.8},
      {"time": "2024-09-11T14:36Z", "channel": "Ch5", "value": 7.5},
      {"time": "2024-09-11T15:25Z", "channel": "Ch5", "value": 7.5},
      {"time": "2024-09-11T15:58Z", "channel": "Ch5", "value": 9.2},
      {"time": "2024-09-11T16:36Z", "channel": "Ch5", "value": 12.6},
      {"time": "2024-09-11T17:10Z", "channel": "Ch5", "value": 15.2},
      {"time": "2024-09-11T17:48Z", "channel": "Ch5", "value": 12.6},
      {"time": "2024-09-11T18:22Z", "channel": "Ch5", "value": 16},
      {"time": "2024-09-11T19:00Z", "channel": "Ch5", "value": 23.6},
      {"time": "2024-09-11T19:38Z", "channel": "Ch5", "value": 19.4},
      {"time": "2024-09-11T20:12Z", "channel": "Ch5", "value": 14.3},
      {"time": "2024-09-11T20:50Z", "channel": "Ch5", "value": 11.7},
      {"time": "2024-09-11T21:24Z", "channel": "Ch5", "value": 10.9},
      {"time": "2024-09-11T22:02Z", "channel": "Ch5", "value": 10.1},
      {"time": "2024-09-11T22:36Z", "channel": "Ch5", "value": 13.4},
      {"time": "2024-09-11T23:00Z", "channel": "Ch5", "value": 16.9},
      {"time": "2024-09-11T23:24Z", "channel": "Ch5", "value": 12.6},
      {"time": "2024-09-12T00:12Z", "channel": "Ch5", "value": 13.4},
      {"time": "2024-09-12T01:00Z", "channel": "Ch5", "value": 10.9},
      {"time": "2024-09-12T01:48Z", "channel": "Ch5", "value": 10.1},
      {"time": "2024-09-12T02:36Z", "channel": "Ch5", "value": 10.1},
      {"time": "2024-09-12T03:24Z", "channel": "Ch5", "value": 8.3},
      {"time": "2024-09-12T03:58Z", "channel": "Ch5", "value": 12.6},
      {"time": "2024-09-12T04:36Z", "channel": "Ch5", "value": 17.7},
      {"time": "2024-09-12T05:24Z", "channel": "Ch5", "value": 14.3},
      {"time": "2024-09-12T06:03Z", "channel": "Ch5", "value": 16},
      {"time": "2024-09-12T06:50Z", "channel": "Ch5", "value": 17.7},
      {"time": "2024-09-12T07:38Z", "channel": "Ch5", "value": 16},
      {"time": "2024-09-12T08:27Z", "channel": "Ch5", "value": 16.9},
      {"time": "2024-09-12T09:14Z", "channel": "Ch5", "value": 13.4},
      {"time": "2024-09-12T10:02Z", "channel": "Ch5", "value": 10.9},
      {"time": "2024-09-12T10:51Z", "channel": "Ch5", "value": 12.6},
      {"time": "2024-09-12T11:38Z", "channel": "Ch5", "value": 10.1},
      {"time": "2024-09-12T12:26Z", "channel": "Ch5", "value": 11.7},
      {"time": "2024-09-12T13:00Z", "channel": "Ch5", "value": 10.9},
      {"time": "2024-09-12T13:48Z", "channel": "Ch5", "value": 8.3},
      {"time": "2024-09-12T14:36Z", "channel": "Ch5", "value": 12.6},
      {"time": "2024-09-12T15:25Z", "channel": "Ch5", "value": 16},
      {"time": "2024-09-12T15:58Z", "channel": "Ch5", "value": 17.7},
      {"time": "2024-09-12T16:36Z", "channel": "Ch5", "value": 14.3},
      {"time": "2024-09-12T17:24Z", "channel": "Ch5", "value": 15.2},
      {"time": "2024-09-12T18:03Z", "channel": "Ch5", "value": 18.5},
      {"time": "2024-09-12T18:36Z", "channel": "Ch5", "value": 24.5},
      {"time": "2024-09-12T19:09Z", "channel": "Ch5", "value": 29.3},
      {"time": "2024-09-12T19:48Z", "channel": "Ch5", "value": 27.9},
      {"time": "2024-09-12T20:21Z", "channel": "Ch5", "value": 26.2},
      {"time": "2024-09-12T20:50Z", "channel": "Ch5", "value": 30.5},
      {"time": "2024-09-12T21:24Z", "channel": "Ch5", "value": 27.9},
      {"time": "2024-09-12T22:02Z", "channel": "Ch5", "value": 22.8},
      {"time": "2024-09-12T22:26Z", "channel": "Ch5", "value": 18.5},
      {"time": "2024-09-12T22:59Z", "channel": "Ch5", "value": 22},
      {"time": "2024-09-12T23:20Z", "channel": "Ch5", "value": 25.4},
      {"time": "2024-09-12T23:38Z", "channel": "Ch5", "value": 29.3},
      {"time": "2024-09-13T00:12Z", "channel": "Ch5", "value": 26.2},
      {"time": "2024-09-13T00:46Z", "channel": "Ch5", "value": 22.8},
      {"time": "2024-09-13T01:34Z", "channel": "Ch5", "value": 22.8},
      {"time": "2024-09-13T02:12Z", "channel": "Ch5", "value": 22.8},
      {"time": "2024-09-13T02:50Z", "channel": "Ch5", "value": 22},
      {"time": "2024-09-13T03:24Z", "channel": "Ch5", "value": 19.4},
      {"time": "2024-09-13T04:12Z", "channel": "Ch5", "value": 22},
      {"time": "2024-09-13T04:59Z", "channel": "Ch5", "value": 23.6},
      {"time": "2024-09-13T05:48Z", "channel": "Ch5", "value": 23.1},
      {"time": "2024-09-13T06:36Z", "channel": "Ch5", "value": 22},
      {"time": "2024-09-13T07:09Z", "channel": "Ch5", "value": 26.2},
      {"time": "2024-09-13T07:34Z", "channel": "Ch5", "value": 28.2},
      {"time": "2024-09-13T07:58Z", "channel": "Ch5", "value": 24.5},
      {"time": "2024-09-13T08:27Z", "channel": "Ch5", "value": 17.7},
      {"time": "2024-09-13T09:14Z", "channel": "Ch5", "value": 16},
      {"time": "2024-09-13T10:02Z", "channel": "Ch5", "value": 14.3},
      {"time": "2024-09-13T10:51Z", "channel": "Ch5", "value": 12.6},
      {"time": "2024-09-13T11:38Z", "channel": "Ch5", "value": 11.2},
      {"time": "2024-09-13T12:26Z", "channel": "Ch5", "value": 11.7},
      {"time": "2024-09-13T13:00Z", "channel": "Ch5", "value": 16},
      {"time": "2024-09-13T13:24Z", "channel": "Ch5", "value": 19},
      {"time": "2024-09-13T13:48Z", "channel": "Ch5", "value": 16},
      {"time": "2024-09-13T14:12Z", "channel": "Ch5", "value": 10.1},
      {"time": "2024-09-13T15:00Z", "channel": "Ch5", "value": 8.3},
      {"time": "2024-09-13T15:39Z", "channel": "Ch5", "value": 7.2},
      {"time": "2024-09-13T16:26Z", "channel": "Ch5", "value": 9.2},
      {"time": "2024-09-13T17:14Z", "channel": "Ch5", "value": 9.2},
      {"time": "2024-09-13T17:48Z", "channel": "Ch5", "value": 11.2},
      {"time": "2024-09-13T18:22Z", "channel": "Ch5", "value": 10.1},
      {"time": "2024-09-13T19:00Z", "channel": "Ch5", "value": 7.8},
      {"time": "2024-09-13T19:48Z", "channel": "Ch5", "value": 6.6},
      {"time": "2024-09-13T20:27Z", "channel": "Ch5", "value": 7.2},
      {"time": "2024-09-13T21:14Z", "channel": "Ch5", "value": 9.5},
      {"time": "2024-09-13T22:12Z", "channel": "Ch5", "value": 9.5},
      {"time": "2024-09-13T23:20Z", "channel": "Ch5", "value": 9.2}
    ]
  },
  "mark": {"type": "line", "strokeWidth": 2, "interpolate": "linear", "clip": true},
  "encoding": {
    "x": {
      "field": "time",
      "type": "temporal",
      "scale": {
        "type": "utc",
        "domain": [
          {"year": 2024, "month": 9, "date": 9, "utc": true},
          {"year": 2024, "month": 9, "date": 14, "utc": true}
        ],
        "nice": false
      },
      "axis": {
        "title": null,
        "labelExpr": "utcFormat(datum.value, '%b %-d')",
        "values": [
          {"year": 2024, "month": 9, "date": 9, "utc": true},
          {"year": 2024, "month": 9, "date": 10, "utc": true},
          {"year": 2024, "month": 9, "date": 11, "utc": true},
          {"year": 2024, "month": 9, "date": 12, "utc": true},
          {"year": 2024, "month": 9, "date": 13, "utc": true},
          {"year": 2024, "month": 9, "date": 14, "utc": true}
        ],
        "labelPadding": 6,
        "labelFlush": false,
        "labelOverlap": false
      }
    },
    "y": {
      "field": "value",
      "type": "quantitative",
      "scale": {"domain": [0, 255], "nice": false, "zero": true},
      "axis": {
        "title": "Values",
        "values": [0, 20, 40, 60, 80, 100, 120, 140, 160, 180, 200, 220, 240],
        "labelPadding": 8,
        "titlePadding": 6
      }
    },
    "color": {
      "field": "channel",
      "type": "nominal",
      "scale": {
        "domain": ["Ch1", "Ch2", "Ch3", "Ch4", "Ch5"],
        "range": ["#ff0000", "#000000", "#800080", "#00aa00", "#0066cc"]
      },
      "legend": null
    }
  }
}
